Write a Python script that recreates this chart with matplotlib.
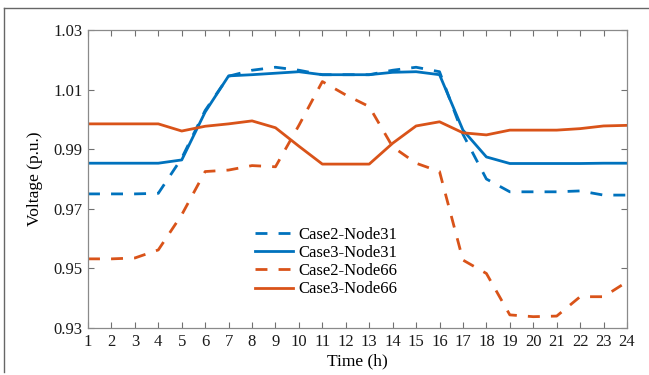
import numpy as np
import matplotlib
matplotlib.use("Agg")
import matplotlib.pyplot as plt
from matplotlib.lines import Line2D

plt.rcParams['font.family'] = ['Liberation Serif', 'DejaVu Serif']

hours = list(range(1, 25))

case2_node31 = [0.975, 0.975, 0.975, 0.9752, 0.987, 1.003, 1.0145, 1.0165, 1.0175, 1.0165,
                1.015, 1.015, 1.015, 1.0165, 1.0175, 1.016, 0.995, 0.980, 0.9757, 0.9757,
                0.9757, 0.976, 0.9746, 0.9746]
case3_node31 = [0.9853, 0.9853, 0.9853, 0.9853, 0.9864, 1.0025, 1.0146, 1.015, 1.0155, 1.016,
                1.015, 1.015, 1.015, 1.0158, 1.016, 1.015, 0.9964, 0.9874, 0.9852, 0.9852,
                0.9852, 0.9852, 0.9853, 0.9853]
case2_node66 = [0.9532, 0.9532, 0.9535, 0.9562, 0.968, 0.9825, 0.983, 0.9845, 0.9841, 0.998,
                1.0127, 1.0082, 1.0043, 0.9908, 0.9853, 0.9825, 0.9528, 0.9483, 0.9344, 0.9338,
                0.934, 0.9405, 0.9405, 0.9455]
case3_node66 = [0.9985, 0.9985, 0.9985, 0.9985, 0.9961, 0.9977, 0.9985, 0.9995, 0.9972, 0.991,
                0.985, 0.985, 0.985, 0.992, 0.9978, 0.9992, 0.9955, 0.9948, 0.9964, 0.9964,
                0.9964, 0.9969, 0.9978, 0.998]

yticks = [0.93, 0.95, 0.97, 0.99, 1.01, 1.03]

blue = '#0072BD'
orange = '#D95319'

fig = plt.figure(figsize=(6.49, 3.75), dpi=100)
ax = fig.add_axes([88 / 649, 1 - 328 / 375, 539 / 649, 298 / 375])

lw = 2.0
dash = (4.3, 4.0)
ax.plot(hours, case2_node31, color=blue, lw=lw, dashes=dash, label='Case2-Node31')
ax.plot(hours, case3_node31, color=blue, lw=lw, label='Case3-Node31')
ax.plot(hours, case2_node66, color=orange, lw=lw, dashes=dash, label='Case2-Node66')
ax.plot(hours, case3_node66, color=orange, lw=lw, label='Case3-Node66')

ax.set_xlim(1, 24)
ax.set_ylim(0.93, 1.03)
ax.set_xticks(hours)
ax.set_yticks(yticks)
ax.set_yticklabels(['%.2f' % v for v in yticks])
ax.tick_params(direction='in', top=True, right=True, length=4, width=0.8,
               color='#707070', labelsize=12, labelcolor='#1a1a1a', pad=4)
for s in ax.spines.values():
    s.set_color('#8a8a8a')
    s.set_linewidth(0.9)

ax.set_xlabel('Time (h)', fontsize=12.5, labelpad=3)
ax.set_ylabel('Voltage (p.u.)', fontsize=12.5, labelpad=7)

ax.legend(loc='upper left', bbox_to_anchor=(0.2975, 0.3615), frameon=False, fontsize=12,
          handlelength=2.3, handletextpad=0.3, labelspacing=0.13, borderaxespad=0)

# outer frame lines (top and left)
fig.add_artist(Line2D([4 / 649, 1], [1 - 8 / 375, 1 - 8 / 375], color='#666666', lw=1.0))
fig.add_artist(Line2D([4 / 649, 4 / 649], [1 - 8 / 375, 1 - 372 / 375], color='#666666', lw=1.0))

fig.savefig('out.png', dpi=100)
